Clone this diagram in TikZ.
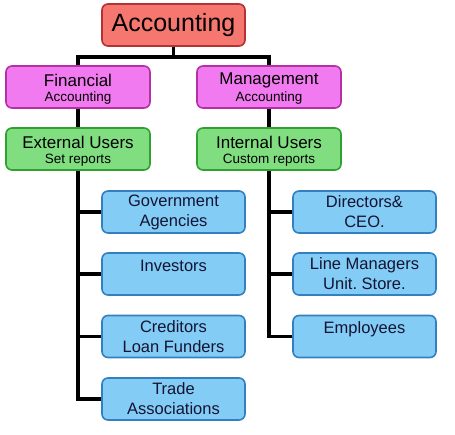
\documentclass[tikz,border=0pt]{standalone}
\usepackage{fontspec}
\setmainfont{Liberation Sans}
\frenchspacing
\begin{document}
\begin{tikzpicture}[x=1pt,y=-1pt,
  box/.style={rounded corners=6pt, line width=1.6pt, minimum width=144pt, minimum height=42pt, inner sep=0pt, align=center},
  acc/.style={box, fill=accfill, draw=accdraw, minimum width=143pt, font=\fontsize{25}{28}\selectfont},
  mag/.style={box, fill=magfill, draw=magdraw},
  grn/.style={box, fill=grnfill, draw=grndraw},
  blu/.style={box, fill=blufill, draw=bludraw, minimum width=143pt, text=blutext, font=\fontsize{16.5}{20}\selectfont},
  conn/.style={line width=3.2pt, black, line join=miter},
  ttl/.style={font=\fontsize{17}{18}\selectfont},
  sub/.style={font=\fontsize{13.5}{18}\selectfont}
]
\definecolor{accfill}{RGB}{246,118,112}
\definecolor{accdraw}{RGB}{180,50,50}
\definecolor{magfill}{RGB}{242,122,240}
\definecolor{magdraw}{RGB}{180,48,165}
\definecolor{grnfill}{RGB}{128,222,128}
\definecolor{grndraw}{RGB}{48,160,48}
\definecolor{blufill}{RGB}{130,204,246}
\definecolor{bludraw}{RGB}{50,128,192}
\definecolor{blutext}{RGB}{20,20,50}
\useasboundingbox (0,0) rectangle (455,435);

\coordinate (j) at (173.5,57);
\coordinate (jl) at (78,57);
\coordinate (jr) at (269,57);

% boxes
\node[acc] (acc) at (173.5,25) {Accounting};
\node[mag] (fin) at (78,87) {};
\node[mag] (man) at (269,87) {};
\node[grn] (ext) at (78,149) {};
\node[grn] (int) at (269,149) {};

\node[blu] (gov) at (173.5,212) {Government\\Agencies};
\node[blu] (inv) at (173.5,274) {};
\node[blu] (cre) at (173.5,336.5) {Creditors\\Loan Funders};
\node[blu] (tra) at (173.5,399) {Trade\\Associations};

\node[blu] (dir) at (364.5,212) {Directors\&\\CEO.};
\node[blu] (lin) at (364.5,274) {Line Managers\\Unit. Store.};
\node[blu] (emp) at (364.5,336.5) {};

% texts
\node[ttl] (fint) at (78,80) {Financial};
\node[sub] (fins) at (78,98) {Accounting};
\node[ttl] (mant) at (269,80) {Management};
\node[sub] (mans) at (269,98) {Accounting};
\node[ttl] (extt) at (78,142) {External Users};
\node[sub] (exts) at (78,160) {Set reports};
\node[ttl] (intt) at (269,142) {Internal Users};
\node[sub] (ints) at (269,160) {Custom reports};
\node[text=blutext, font=\fontsize{16.5}{20}\selectfont] (invt) at (173.5,266) {Investors};
\node[text=blutext, font=\fontsize{16.5}{20}\selectfont] (empt) at (364.5,329.5) {Employees};

% connectors
\draw[conn] (acc.south) -- (j);
\draw[conn] (fin.north) -- (jl) -- (jr) -- (man.north);
\draw[conn] (fin.south) -- (ext.north);
\draw[conn] (man.south) -- (int.north);
\draw[conn] (ext.south) |- (tra.west);
\draw[conn] (ext.south |- gov.west) -- (gov.west);
\draw[conn] (ext.south |- inv.west) -- (inv.west);
\draw[conn] (ext.south |- cre.west) -- (cre.west);
\draw[conn] (int.south) |- (emp.west);
\draw[conn] (int.south |- dir.west) -- (dir.west);
\draw[conn] (int.south |- lin.west) -- (lin.west);
\end{tikzpicture}
\end{document}
